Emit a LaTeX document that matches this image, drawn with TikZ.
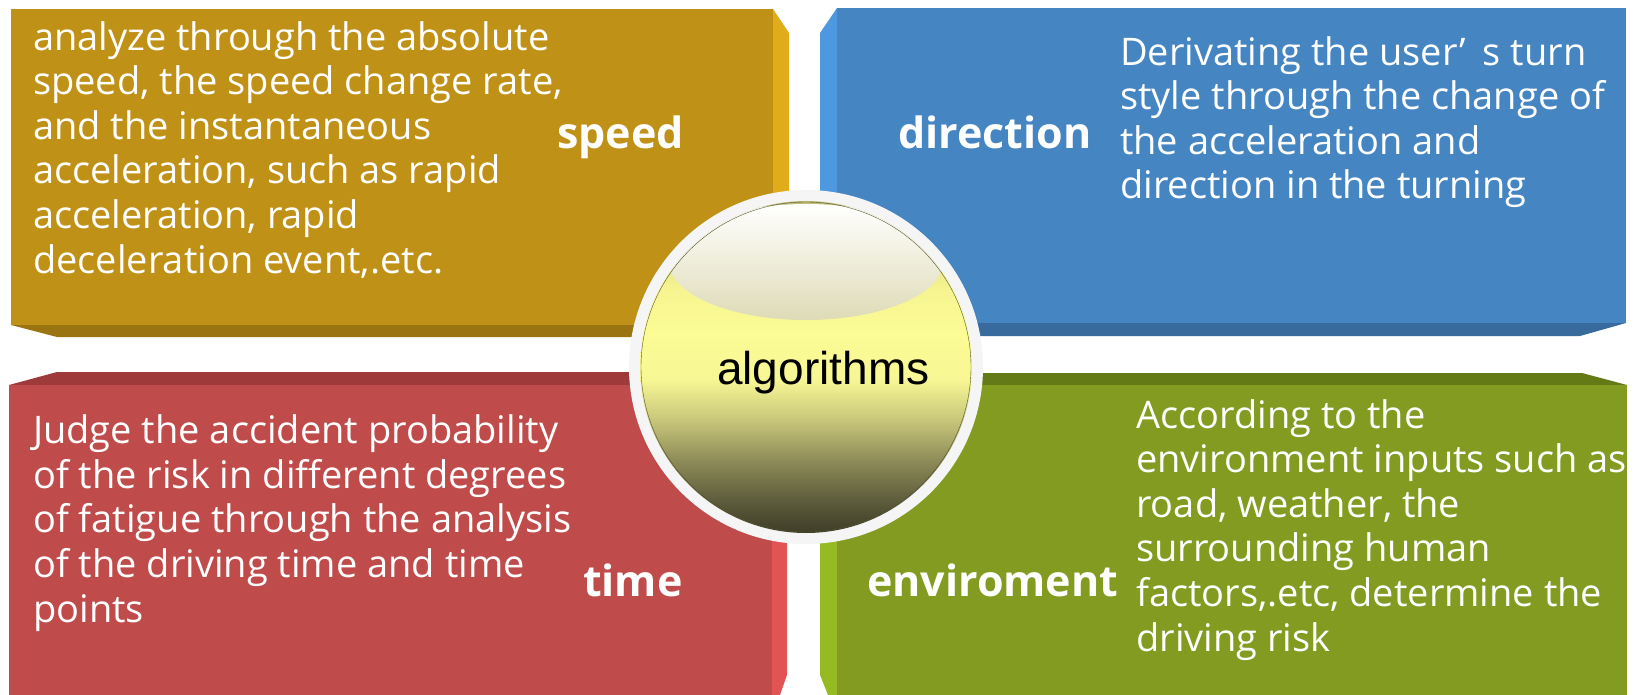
\documentclass[tikz,border=0pt]{standalone}
\usepackage{fontspec}
\usepackage{tikz}
\usepackage{xcolor}
\setmainfont{Open Sans}
\newfontfamily\ballfont{Liberation Sans}
\definecolor{goldfront}{HTML}{C09117}
\definecolor{goldside}{HTML}{E1AC19}
\definecolor{golddark}{HTML}{9A7411}
\definecolor{bluefront}{HTML}{4585C1}
\definecolor{blueside}{HTML}{4D98DE}
\definecolor{bluedark}{HTML}{386A9E}
\definecolor{redfront}{HTML}{C04B4B}
\definecolor{redside}{HTML}{E05454}
\definecolor{reddark}{HTML}{9E3A3A}
\definecolor{greenfront}{HTML}{829B20}
\definecolor{greenside}{HTML}{96BA22}
\definecolor{greendark}{HTML}{637A17}
\definecolor{ringgray}{HTML}{F5F5F5}
\definecolor{shine}{HTML}{DEDBB6}
\pgfdeclareverticalshading{glassball}{100bp}{color(0bp)=(rgb,255:red,62;green,61;blue,40);
  color(25bp)=(rgb,255:red,62;green,61;blue,40); color(30bp)=(rgb,255:red,94;green,93;blue,60);
  color(36bp)=(rgb,255:red,142;green,140;blue,88); color(42bp)=(rgb,255:red,200;green,198;blue,122);
  color(48bp)=(rgb,255:red,246;green,246;blue,148); color(55bp)=(rgb,255:red,252;green,252;blue,150);
  color(62bp)=(rgb,255:red,245;green,244;blue,144); color(70bp)=(rgb,255:red,214;green,212;blue,131);
  color(75bp)=(rgb,255:red,190;green,188;blue,118); color(100bp)=(rgb,255:red,190;green,188;blue,118)}

\begin{document}
\begin{tikzpicture}[x=1pt,y=-1pt,
    body/.style={anchor=base west,align=left,text=white,inner sep=0pt,font=\fontsize{38}{44.6}\selectfont},
    title/.style={anchor=base west,text=white,inner sep=0pt,font=\bfseries\fontsize{43}{50}\selectfont},
    ball/.style={anchor=base west,text=black,inner sep=0pt,font=\ballfont\fontsize{46}{52}\selectfont}]
      \useasboundingbox (0,0) rectangle (1636,695);
      % speed block
      \fill [goldside] (773,9) -- (789,33) -- (789,337) -- (773,325) -- cycle;
      \fill [golddark] (11,325) -- (57,337) -- (789,337) -- (773,325) -- cycle;
      \fill [goldfront] (11,9) rectangle (773,325);
      % direction block
      \fill [blueside] (837,8) -- (820,33) -- (820,336) -- (837,323) -- cycle;
      \fill [bluedark] (837,323) -- (820,336) -- (1580,336) -- (1626,323) -- cycle;
      \fill [bluefront] (837,8) rectangle (1626,323);
      % time block
      \fill [redside] (772,385) -- (787,372) -- (787,675) -- (780,695) -- (772,695) -- cycle;
      \fill [reddark] (9,385) -- (57,372) -- (787,372) -- (772,385) -- cycle;
      \fill [redfront] (9,385) rectangle (772,695);
      % enviroment block
      \fill [greenside] (837,385) -- (820,373) -- (820,675) -- (828,695) -- (837,695) -- cycle;
      \fill [greendark] (837,385) -- (820,373) -- (1582,373) -- (1627,385) -- cycle;
      \fill [greenfront] (837,385) rectangle (1627,695);
      % glass ball
      \fill [ringgray] (806,367) circle [radius=177];
      \shade [shading=glassball] (806,367) circle [radius=166];
      \begin{scope}
        \clip (806,367) circle [radius=166];
        \shade [top color=white,bottom color=shine] (806,262) ellipse (137 and 58);
        \draw [olive!50!black,thin] (806,367) circle [radius=165];
      \end{scope}
      \node [ball] (algorithms) at (717,384) {algorithms};
      % texts (anchored at the last line)
      \node [body] (speedtext) at (33,273) {analyze through the absolute\\speed, the speed change rate,\\and the instantaneous\\acceleration, such as rapid\\acceleration, rapid\\deceleration event,.etc.};
      \node [title] (speed) at (557,149) {speed};
      \node [body] (directiontext) at (1120,199) {Derivating the user’\hspace{0.45em}s turn\\style through the change of\\the acceleration and\\direction in the turning};
      \node [title] (direction) at (898,149) {direction};
      \node [body] (timetext) at (33,622) {Judge the accident probability\\of the risk in different degrees\\of fatigue through the analysis\\of the driving time and time\\points};
      \node [title] (time) at (583,596) {time};
      \node [body] (envtext) at (1136,651) {According to the\\environment inputs such as\\road, weather, the\\surrounding human\\factors,.etc, determine the\\driving risk};
      \node [title] (enviroment) at (867,596) {enviroment};
\end{tikzpicture}
\end{document}
